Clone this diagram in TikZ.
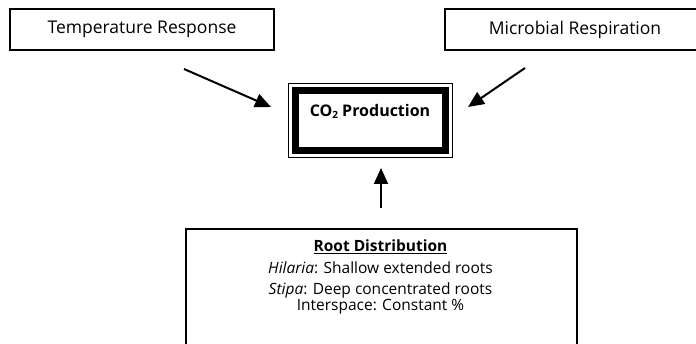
\documentclass[tikz,border=0pt]{standalone}
\usepackage{fontspec}
\setmainfont{Open Sans}
\usetikzlibrary{arrows.meta}
\begin{document}
\begin{tikzpicture}[x=1pt,y=1pt,
  box/.style={draw, line width=1.5pt, inner sep=0pt},
  lbl/.style={font=\fontsize{17.5}{20}\selectfont, inner sep=0pt},
  txt/.style={font=\fontsize{15.5}{18}\selectfont, inner sep=0pt},
  arr/.style={line width=2pt, -{Triangle[length=16pt,width=14pt]}}]
\useasboundingbox (0,0) rectangle (696,343);
\clip (0,0) rectangle (696,343);
% top boxes
\node[box, lbl, minimum width=264pt, minimum height=41pt] (temp) at (142,313.5) {Temperature Response};
\node[box, lbl, minimum width=260pt, minimum height=41pt] (micro) at (575,313.5) {Microbial Respiration};
% central box
\node[draw, line width=1pt, minimum width=164pt, minimum height=74pt, inner sep=0pt] (co2) at (370,222) {};
\draw[line width=7pt] ([xshift=7.5pt,yshift=-7.5pt]co2.north west) rectangle ([xshift=-7.5pt,yshift=7.5pt]co2.south east);
\node[inner sep=0pt, font=\fontsize{16}{19}\selectfont\bfseries] (co2t) at (370,232) {CO\raisebox{-2pt}{\fontsize{10}{10}\selectfont 2} Production};
% bottom box
\node[box, line width=1.6pt, minimum width=391pt, minimum height=132pt, anchor=north west] (root) at (185,115) {};
\node[txt, font=\fontsize{15.5}{18}\selectfont\bfseries] (rtitle) at (380.5,96) {\underline{Root Distribution}};
\node[txt] (hil) at (380.5,75) {\textit{Hilaria}: Shallow extended roots};
\node[txt] (sti) at (380.5,53) {\textit{Stipa}: Deep concentrated roots};
\node[txt] (int) at (380.5,36) {Interspace: Constant \%};
% arrows
\coordinate (la) at (184,274); \coordinate (lt) at (271,236);
\coordinate (ra) at (525,275); \coordinate (rt) at (468,236);
\coordinate (ba) at (381,135); \coordinate (bt) at (381,175);
\draw[arr] (la) -- (lt);
\draw[arr] (ra) -- (rt);
\draw[arr] (ba) -- (bt);
\end{tikzpicture}
\end{document}
